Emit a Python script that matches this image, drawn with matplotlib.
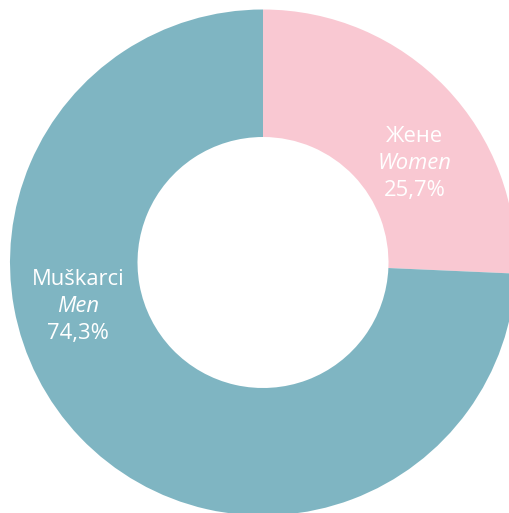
import matplotlib.pyplot as plt

labels_sr = ['Жене', 'Muškarci']
labels_en = ['Women', 'Men']
shares = [25.7, 74.3]
colors = ['#f9c8d2', '#7fb5c2']

W, H = 510, 513
fig = plt.figure(figsize=(W / 100, H / 100), dpi=100)
ax = fig.add_axes([0, 0, 1, 1])

# pixel-like coords, y measured from bottom
cx, cy = 263, H - 262.5
R, r = 253, 125.5
ax.pie(shares, colors=colors, startangle=90, counterclock=False,
       center=(cx, cy), radius=R,
       wedgeprops=dict(width=R - r, linewidth=0))
ax.set_xlim(0, W)
ax.set_ylim(0, H)
ax.set_aspect('equal')
ax.axis('off')

font = 'Open Sans'
fs = 15.8
# label anchors (x, y of middle line) in image pixels
anchors = [(415, 163), (78, 306)]
for (x, y), sr, en, v in zip(anchors, labels_sr, labels_en, shares):
    yy = H - y
    ax.text(x, yy + 27, sr, ha='center', va='center', color='white',
            fontsize=fs, family=font)
    ax.text(x, yy, en, ha='center', va='center', color='white',
            fontsize=fs, family=font, style='italic')
    ax.text(x, yy - 27, f'{v:.1f}%'.replace('.', ','), ha='center',
            va='center', color='white', fontsize=fs, family=font)

fig.savefig('out.png', dpi=100)
